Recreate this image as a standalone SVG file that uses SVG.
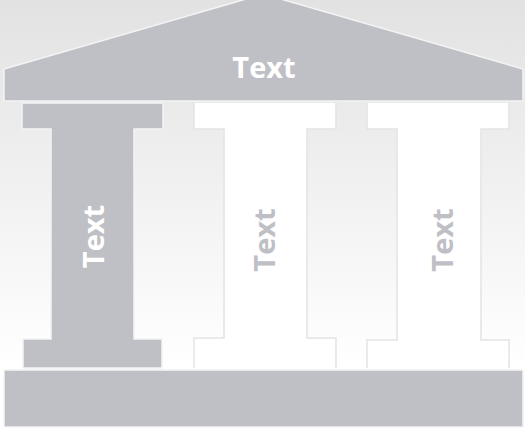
<svg xmlns="http://www.w3.org/2000/svg" width="525" height="433" viewBox="0 0 525 433">
<defs>
<linearGradient id="bg" x1="0" y1="0" x2="0" y2="1">
<stop offset="0" stop-color="#e2e2e2"/>
<stop offset="0.85" stop-color="#ffffff"/>
<stop offset="1" stop-color="#ffffff"/>
</linearGradient>
<style>
.gray{fill:#bfc0c5;stroke:#f4f4f4;stroke-width:1.5}
.wfill{fill:#ffffff;stroke:none}
.wedge{fill:none;stroke:#e3e3e3;stroke-width:1.5}
.lbl{font-family:"Open Sans","DejaVu Sans",sans-serif;font-weight:bold;font-size:29px;text-anchor:middle}
.w{fill:#ffffff}
.g{fill:#bfc0c5}
</style>
</defs>
<rect x="0" y="0" width="525" height="433" fill="url(#bg)"/>
<g id="roof">
<polygon class="gray" stroke="#ffffff" points="4,101 4,69 263.5,-6 523,69 523,101"/>
<text class="lbl w" x="264" y="78">Text</text>
</g>
<g id="pillar1">
<polygon class="gray" points="22,103 163,103 163,129 134,129 134,339 162,339 162,368 23,368 23,339 51,339 51,129 22,129"/>
<text class="lbl w" font-size="27" transform="translate(104,236.5) rotate(-90)">Text</text>
</g>
<g id="pillar2">
<polygon class="wfill" points="194,103 336,103 336,129 307,129 307,338 336,338 336,368 194,368 194,338 224,338 224,129 194,129"/>
<polyline class="wedge" points="194,103 194,129 224,129 224,338 194,338 194,368"/>
<polyline class="wedge" points="336,103 336,129 307,129 307,338 336,338 336,368"/>
<text class="lbl g" transform="translate(275,240) rotate(-90)">Text</text>
</g>
<g id="pillar3">
<polygon class="wfill" points="367,103 509,103 509,129 481,129 481,340 509,340 509,368 367,368 367,340 397,340 397,129 367,129"/>
<polyline class="wedge" points="367,103 367,129 397,129 397,340 367,340 367,368"/>
<polyline class="wedge" points="509,103 509,129 481,129 481,340 509,340 509,368"/>
<text class="lbl g" transform="translate(453,240) rotate(-90)">Text</text>
</g>
<g id="base">
<rect class="gray" stroke="#e6e6e6" x="4" y="370" width="519" height="57"/>
</g>
<g id="connectors"></g>
</svg>
